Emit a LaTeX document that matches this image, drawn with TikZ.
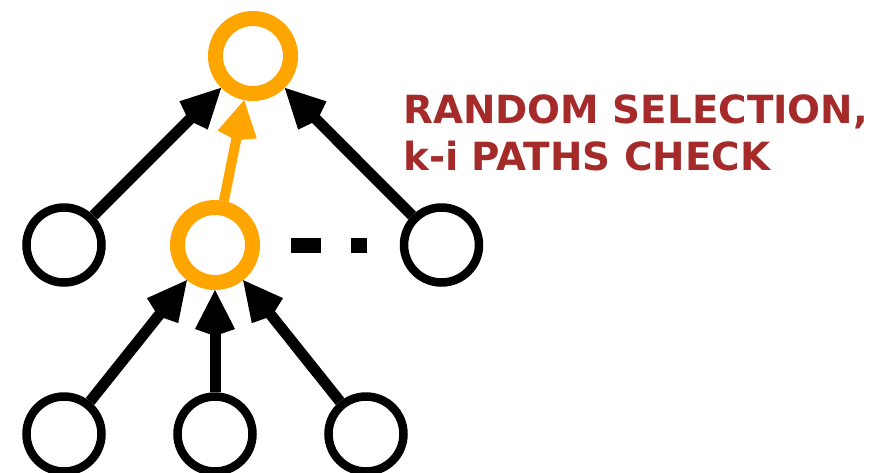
\documentclass[tikz,border=0pt]{standalone}
\usepackage{fontspec}
\usetikzlibrary{arrows.meta}
\newfontfamily\labelfont{DejaVu Sans}
\definecolor{hiorange}{RGB}{255,165,0}
\definecolor{labelred}{RGB}{165,42,42}
\begin{document}
\begin{tikzpicture}[x=1pt,y=-1pt,
  vertex/.style={circle,draw=black,line width=8.5pt,minimum size=75pt,inner sep=0pt},
  picked/.style={circle,draw=hiorange,line width=15pt,minimum size=75pt,inner sep=0pt},
  edge/.style={line width=11pt,draw=black,-{Kite[length=46pt,width=40pt,inset=7pt]}},
  pickededge/.style={line width=10pt,draw=hiorange,-{Kite[length=41pt,width=40pt,inset=6pt]}},
  caption/.style={font=\labelfont\bfseries\fontsize{38.8}{47}\selectfont,text=labelred,inner sep=0pt,anchor=base west}]
  \useasboundingbox (0,0) rectangle (886,472);

  % tree nodes
  \node[picked] (root) at (253,56) {};
  \node[vertex] (ml) at (64,245) {};
  \node[picked] (mm) at (215,245) {};
  \node[vertex] (mr) at (441.5,245) {};
  \node[vertex] (bl) at (64,434) {};
  \node[vertex] (bm) at (215,434) {};
  \node[vertex] (br) at (366,434) {};

  % elided siblings
  \coordinate (dotsA) at (291,245);
  \coordinate (dotsB) at (367,245);
  \draw[line width=15pt,dash pattern=on 30pt off 30pt on 16pt off 100pt] (dotsA) -- (dotsB);

  % edges
  \draw[edge] (ml) -- (root);
  \draw[edge] (mr) -- (root);
  \draw[pickededge] (mm) -- (root);
  \draw[edge] (bl) -- (mm);
  \draw[edge] (bm) -- (mm);
  \draw[edge] (br) -- (mm);

  % caption
  \node[caption] (cap1) at (403,123) {RANDOM SELECTION,};
  \node[caption] (cap2) at (403,170) {k-i PATHS CHECK};
\end{tikzpicture}
\end{document}
